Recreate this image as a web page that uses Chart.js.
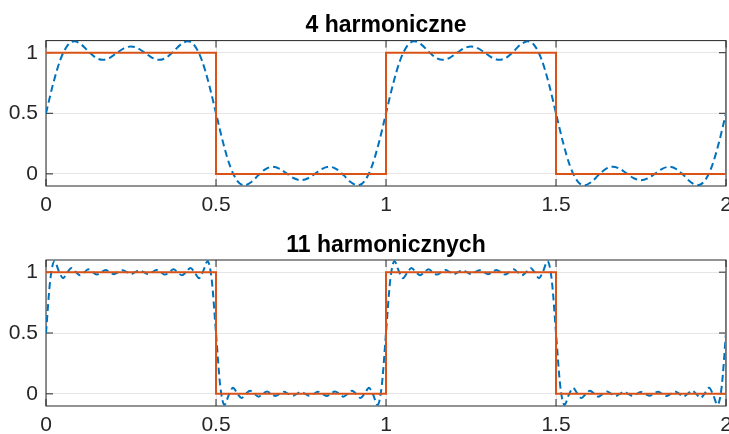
<!DOCTYPE html>
<html>
<head>
<meta charset="utf-8">
<script src="https://cdn.jsdelivr.net/npm/chart.js@4/dist/chart.umd.min.js"></script>
<style>
  body { margin: 0; background: #fff; }
  .panel { position: absolute; left: 0; }
</style>
</head>
<body>
<canvas id="top-chart" class="panel" width="729" height="217" style="top:0"></canvas>
<canvas id="bottom-chart" class="panel" width="729" height="217" style="top:217px"></canvas>
<script>
/* ---- data ---- */
const xTicks = [0, 0.5, 1, 1.5, 2];
const yTicks = [0, 0.5, 1];

// ideal square wave (corner points)
const squareX = [0, 0.5, 0.5, 1, 1, 1.5, 1.5, 2, 2];
const squareY = [1, 1, 0, 0, 1, 1, 0, 0, 1];

// Fourier approximation, 4 harmonics, samples every 1/48 over t = 0..2
const approx4 = [
  0.500, 0.742, 0.938, 1.057, 1.094, 1.067, 1.010, 0.960, 0.941, 0.958, 0.998, 1.036, 1.052,
  1.036, 0.998, 0.958, 0.941, 0.960, 1.010, 1.067, 1.094, 1.057, 0.938, 0.742, 0.500,
  0.258, 0.062, -0.057, -0.094, -0.067, -0.010, 0.040, 0.059, 0.042, 0.002, -0.036, -0.052,
  -0.036, 0.002, 0.042, 0.059, 0.040, -0.010, -0.067, -0.094, -0.057, 0.062, 0.258, 0.500,
  0.742, 0.938, 1.057, 1.094, 1.067, 1.010, 0.960, 0.941, 0.958, 0.998, 1.036, 1.052,
  1.036, 0.998, 0.958, 0.941, 0.960, 1.010, 1.067, 1.094, 1.057, 0.938, 0.742, 0.500,
  0.258, 0.062, -0.057, -0.094, -0.067, -0.010, 0.040, 0.059, 0.042, 0.002, -0.036, -0.052,
  -0.036, 0.002, 0.042, 0.059, 0.040, -0.010, -0.067, -0.094, -0.057, 0.062, 0.258, 0.500
];

// Fourier approximation, 11 harmonics, samples every 1/80 over t = 0..2
const approx11 = [
  0.500, 0.936, 1.090, 1.010, 0.951, 0.996, 1.034, 1.002, 0.974, 0.999, 1.023, 1.000, 0.980,
  1.000, 1.018, 1.000, 0.983, 1.000, 1.016, 1.000, 0.984,
  1.000, 1.016, 1.000, 0.983, 1.000, 1.018, 1.000, 0.980, 1.000, 1.023, 0.999, 0.974,
  1.002, 1.034, 0.996, 0.951, 1.010, 1.090, 0.936, 0.500,
  0.064, -0.090, -0.010, 0.049, 0.004, -0.034, -0.002, 0.026, 0.001, -0.023, 0.000, 0.020,
  0.000, -0.018, 0.000, 0.017, 0.000, -0.016, 0.000, 0.016,
  0.000, -0.016, 0.000, 0.017, 0.000, -0.018, 0.000, 0.020, 0.000, -0.023, 0.001, 0.026,
  -0.002, -0.034, 0.004, 0.049, -0.010, -0.090, 0.064, 0.500,
  0.936, 1.090, 1.010, 0.951, 0.996, 1.034, 1.002, 0.974, 0.999, 1.023, 1.000, 0.980,
  1.000, 1.018, 1.000, 0.983, 1.000, 1.016, 1.000, 0.984,
  1.000, 1.016, 1.000, 0.983, 1.000, 1.018, 1.000, 0.980, 1.000, 1.023, 0.999, 0.974,
  1.002, 1.034, 0.996, 0.951, 1.010, 1.090, 0.936, 0.500,
  0.064, -0.090, -0.010, 0.049, 0.004, -0.034, -0.002, 0.026, 0.001, -0.023, 0.000, 0.020,
  0.000, -0.018, 0.000, 0.017, 0.000, -0.016, 0.000, 0.016,
  0.000, -0.016, 0.000, 0.017, 0.000, -0.018, 0.000, 0.020, 0.000, -0.023, 0.001, 0.026,
  -0.002, -0.034, 0.004, 0.049, -0.010, -0.090, 0.064, 0.500
];

const X_MIN = 0, X_MAX = 2;
const Y_MIN = -0.1, Y_MAX = 1.1;

/* uniformly sampled series -> {x,y} points over X_MIN..X_MAX */
function sampled(values) {
  const n = values.length - 1;
  return values.map((v, i) => ({ x: X_MIN + (X_MAX - X_MIN) * i / n, y: v }));
}

function paired(xs, ys) {
  return xs.map((x, i) => ({ x: x, y: ys[i] }));
}

/* box + inward ticks on all four sides, MATLAB style */
const matlabBox = {
  id: 'matlabBox',
  beforeDatasetsDraw(chart) {
    const { ctx, chartArea: a, scales } = chart;
    const tl = 7;
    ctx.save();
    ctx.strokeStyle = '#262626';
    ctx.lineWidth = 1;
    ctx.strokeRect(a.left, a.top, a.right - a.left, a.bottom - a.top);
    ctx.beginPath();
    xTicks.forEach(v => {
      const px = scales.x.getPixelForValue(v);
      ctx.moveTo(px, a.bottom); ctx.lineTo(px, a.bottom - tl);
      ctx.moveTo(px, a.top); ctx.lineTo(px, a.top + tl);
    });
    yTicks.forEach(v => {
      const py = scales.y.getPixelForValue(v);
      ctx.moveTo(a.left, py); ctx.lineTo(a.left + tl, py);
      ctx.moveTo(a.right, py); ctx.lineTo(a.right - tl, py);
    });
    ctx.stroke();
    ctx.restore();
  }
};

const tickFont = { family: 'Liberation Sans', size: 21 };

function makePanel(id, title, curve, titleTop, xAxisHeight) {
  return new Chart(document.getElementById(id), {
    type: 'line',
    data: {
      datasets: [
        {
          label: 'prostokąt',
          data: paired(squareX, squareY),
          borderColor: '#D95319',
          borderWidth: 2,
          pointRadius: 0,
          tension: 0,
          fill: false
        },
        {
          label: title,
          data: sampled(curve),
          borderColor: '#0072BD',
          borderWidth: 2,
          borderDash: [7, 4],
          pointRadius: 0,
          cubicInterpolationMode: 'monotone',
          fill: false
        }
      ]
    },
    options: {
      responsive: false,
      animation: false,
      events: [],
      layout: { padding: { left: 0, right: 3, top: 0, bottom: 0 } },
      plugins: {
        legend: { display: false },
        tooltip: { enabled: false },
        title: {
          display: true,
          fullSize: false,
          text: title,
          color: '#000',
          font: { family: 'Liberation Sans', size: 23, weight: 'bold' },
          padding: { top: titleTop, bottom: 1 }
        }
      },
      scales: {
        x: {
          type: 'linear',
          min: X_MIN,
          max: X_MAX,
          afterBuildTicks: s => { s.ticks = xTicks.map(v => ({ value: v })); },
          afterFit: s => { s.height = xAxisHeight; s.paddingLeft = 0; s.paddingRight = 0; },
          border: { display: false },
          grid: { color: '#e6e6e6', lineWidth: 1, drawTicks: false },
          ticks: { font: tickFont, color: '#262626', padding: 7, maxRotation: 0, callback: v => String(v) }
        },
        y: {
          min: Y_MIN,
          max: Y_MAX,
          afterBuildTicks: s => { s.ticks = yTicks.map(v => ({ value: v })); },
          afterFit: s => { s.width = 46; s.paddingTop = 0; s.paddingBottom = 0; },
          border: { display: false },
          grid: { color: '#e6e6e6', lineWidth: 1, drawTicks: false },
          ticks: { font: tickFont, color: '#262626', padding: 8, callback: v => String(v) }
        }
      }
    },
    plugins: [matlabBox]
  });
}

makePanel('top-chart', '4 harmoniczne', approx4, 12, 31);
makePanel('bottom-chart', '11 harmonicznych', approx11, 14.4, 28);
</script>
</body>
</html>
